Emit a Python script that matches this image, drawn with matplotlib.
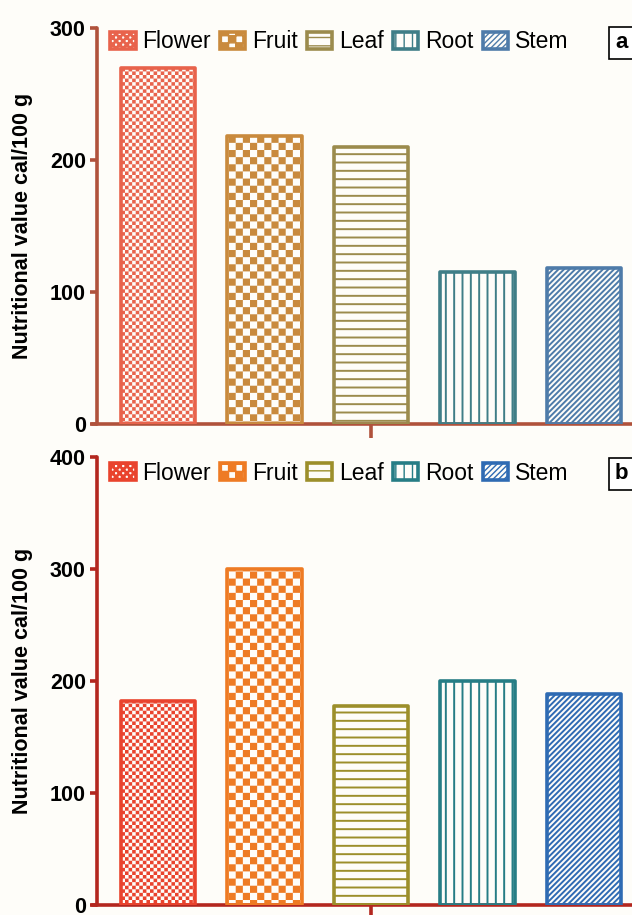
import numpy as np
import matplotlib
matplotlib.use("Agg")
import matplotlib.pyplot as plt
import matplotlib.hatch as mhatch
from matplotlib.path import Path


# checkerboard hatch: one '*' -> coarse squares, '**' -> fine squares
class CheckerHatch(mhatch.HatchPatternBase):
    def __init__(self, hatch, density):
        self.n = hatch.count('*') * 14
        self.num_vertices = (self.n * self.n // 2) * 5

    def set_vertices_and_codes(self, vertices, codes):
        step = 1.0 / self.n
        k = 0
        for i in range(self.n):
            for j in range(self.n):
                if (i + j) % 2:
                    continue
                x0, y0 = i * step, j * step
                vertices[k:k + 5] = [(x0, y0), (x0 + step, y0), (x0 + step, y0 + step),
                                     (x0, y0 + step), (x0, y0)]
                codes[k:k + 5] = [Path.MOVETO, Path.LINETO, Path.LINETO, Path.LINETO, Path.CLOSEPOLY]
                k += 5


mhatch._hatch_types[:] = [h for h in mhatch._hatch_types if h is not mhatch.Stars] + [CheckerHatch]

plt.rcParams['font.family'] = ['Liberation Sans', 'DejaVu Sans']

#---------------- data ----------------
parts = ["Flower", "Fruit", "Leaf", "Root", "Stem"]
values_a = [270, 218, 210, 115, 118]
values_b = [182, 300, 178, 200, 188]
hatches = ["**", "*", "--", "||", "//////"]

colors_a = ["#E8634C", "#C98A3D", "#9B8B4D", "#3F7E87", "#4E7BA9"]
colors_b = ["#E9432D", "#EE7B24", "#9C8F2B", "#267D85", "#2F6BB3"]
axis_col_a = "#B0523C"
axis_col_b = "#B3271F"

fig = plt.figure(figsize=(6.32, 9.15), dpi=100, facecolor="#FEFDF9")

x = np.arange(len(parts))


def panel(rect, vals, cols, axcol, ymax, yticks, tag, leg_y):
    ax = fig.add_axes(rect, facecolor="#FEFDF9")
    bars = ax.bar(x, vals, width=0.70, color="none", edgecolor=cols, linewidth=2.6,
                  label=parts, joinstyle="round", zorder=3)
    for b, h in zip(bars, hatches):
        b.set_hatch(h)
        if hasattr(b, "set_hatch_linewidth"):
            b.set_hatch_linewidth(0.0 if h.startswith("*") else 1.4)
    ax.set_xlim(-0.573, 4.45)
    ax.set_ylim(0, ymax)
    ax.set_yticks(yticks)
    ax.set_xticks([2])
    ax.set_xticklabels([""])
    for s in ["top", "right"]:
        ax.spines[s].set_visible(False)
    for s in ["left", "bottom"]:
        ax.spines[s].set_color(axcol)
        ax.spines[s].set_linewidth(2.6)
        ax.spines[s].set_capstyle("round")
    ax.spines["bottom"].set_bounds(-0.62, 4.45)
    ax.tick_params(axis="y", colors=axcol, width=2.6, length=5, labelsize=15.5, pad=3,
                   labelcolor="black")
    ax.tick_params(axis="x", colors=axcol, width=2.6, length=10, direction="out")
    for t in ax.get_yticklabels():
        t.set_fontweight("bold")
    ax.set_ylabel("Nutritional value cal/100 g", fontsize=15.5, fontweight="bold", labelpad=12)
    ax.legend(loc="center left", bbox_to_anchor=(0.025, leg_y), ncol=5, frameon=False,
              fontsize=16.5, handlelength=1.1, handleheight=0.75, handletextpad=0.3,
              columnspacing=0.4, borderaxespad=0, borderpad=0)
    ax.text(0.968, leg_y - 0.002, tag, transform=ax.transAxes, fontsize=16, fontweight="bold",
            ha="left", va="center",
            bbox=dict(boxstyle="square,pad=0.25", facecolor="white", edgecolor="black", linewidth=1.2))
    return ax


panel([0.1535, 0.5366, 0.8465, 0.4328], values_a, colors_a, axis_col_a, 300, [0, 100, 200, 300], "a",
      1 - 14 / 396)
panel([0.1535, 0.0109, 0.8465, 0.4896], values_b, colors_b, axis_col_b, 400, [0, 100, 200, 300, 400], "b",
      1 - 16 / 448)

fig.savefig("out.png", dpi=100, facecolor=fig.get_facecolor())
